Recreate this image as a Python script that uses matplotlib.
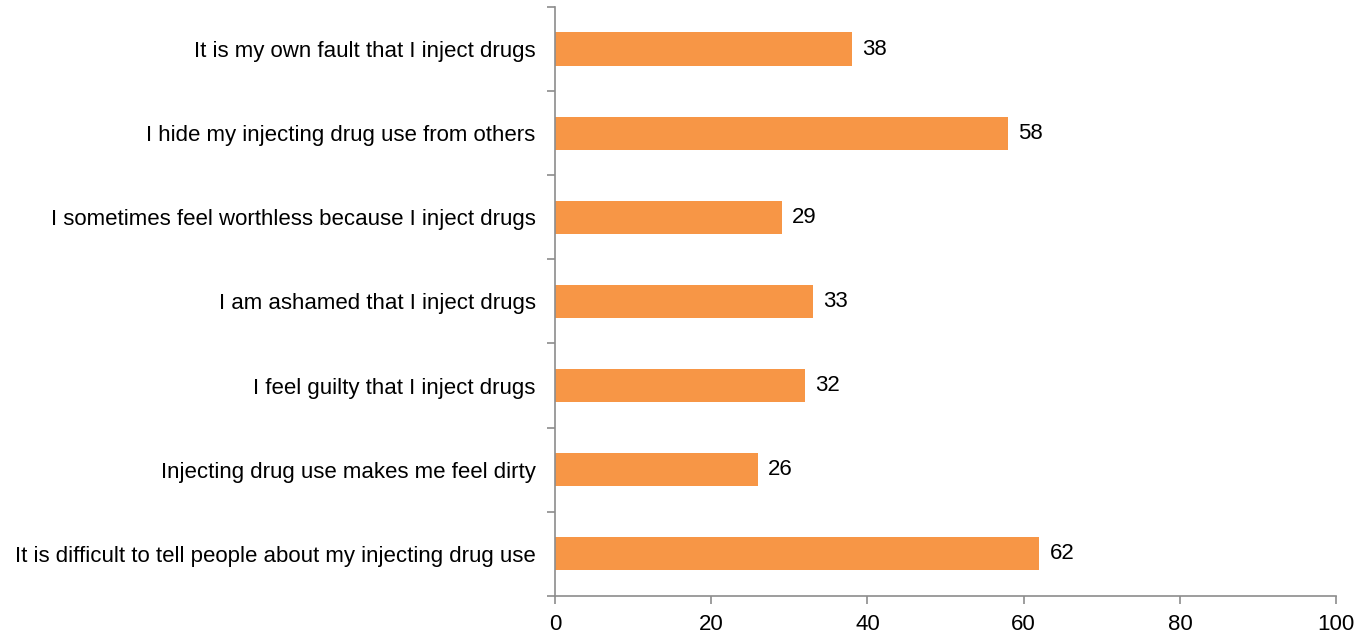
import matplotlib
matplotlib.use("Agg")
import matplotlib.pyplot as plt

categories = [
    "It is difficult to tell people about my injecting drug use",
    "Injecting drug use makes me feel dirty",
    "I feel guilty that I inject drugs",
    "I am ashamed that I inject drugs",
    "I sometimes feel worthless because I inject drugs",
    "I hide my injecting drug use from others",
    "It is my own fault that I inject drugs",
]
values = [62, 26, 32, 33, 29, 58, 38]
x_ticks = [0, 20, 40, 60, 80, 100]

plt.rcParams["font.family"] = ["Liberation Sans", "DejaVu Sans"]

fig = plt.figure(figsize=(13.62, 6.32), dpi=100)
ax = fig.add_axes([0.4075, 0.0575, 0.5735, 0.931])

bar_color = "#F79646"
axis_color = "#8C8C8C"
fs = 16

pos = list(range(len(categories)))
ax.barh(pos, values, height=0.4, color=bar_color, edgecolor="none")

for p, v in zip(pos, values):
    ax.text(v + 1.3, p, f"{v}", va="center", ha="left", fontsize=fs, color="black")

ax.set_xlim(0, 100)
ax.set_ylim(-0.5, len(categories) - 0.5)
ax.set_xticks(x_ticks)
ax.set_xticklabels([str(t) for t in x_ticks], fontsize=fs)

# category labels centred on bars, tick marks on category boundaries
ax.set_yticks(pos)
ax.set_yticklabels(categories, fontsize=fs)
ax.tick_params(axis="y", length=0, pad=14)
ax.set_yticks([i - 0.5 for i in range(len(categories) + 1)], minor=True)
ax.tick_params(axis="y", which="minor", length=6, color=axis_color, width=1.2, direction="out")
ax.tick_params(axis="x", length=6, color=axis_color, width=1.2, direction="out", pad=7)

for side in ["top", "right"]:
    ax.spines[side].set_visible(False)
for side in ["left", "bottom"]:
    ax.spines[side].set_color(axis_color)
    ax.spines[side].set_linewidth(1.2)

fig.savefig("out.png", dpi=100, facecolor="white")
